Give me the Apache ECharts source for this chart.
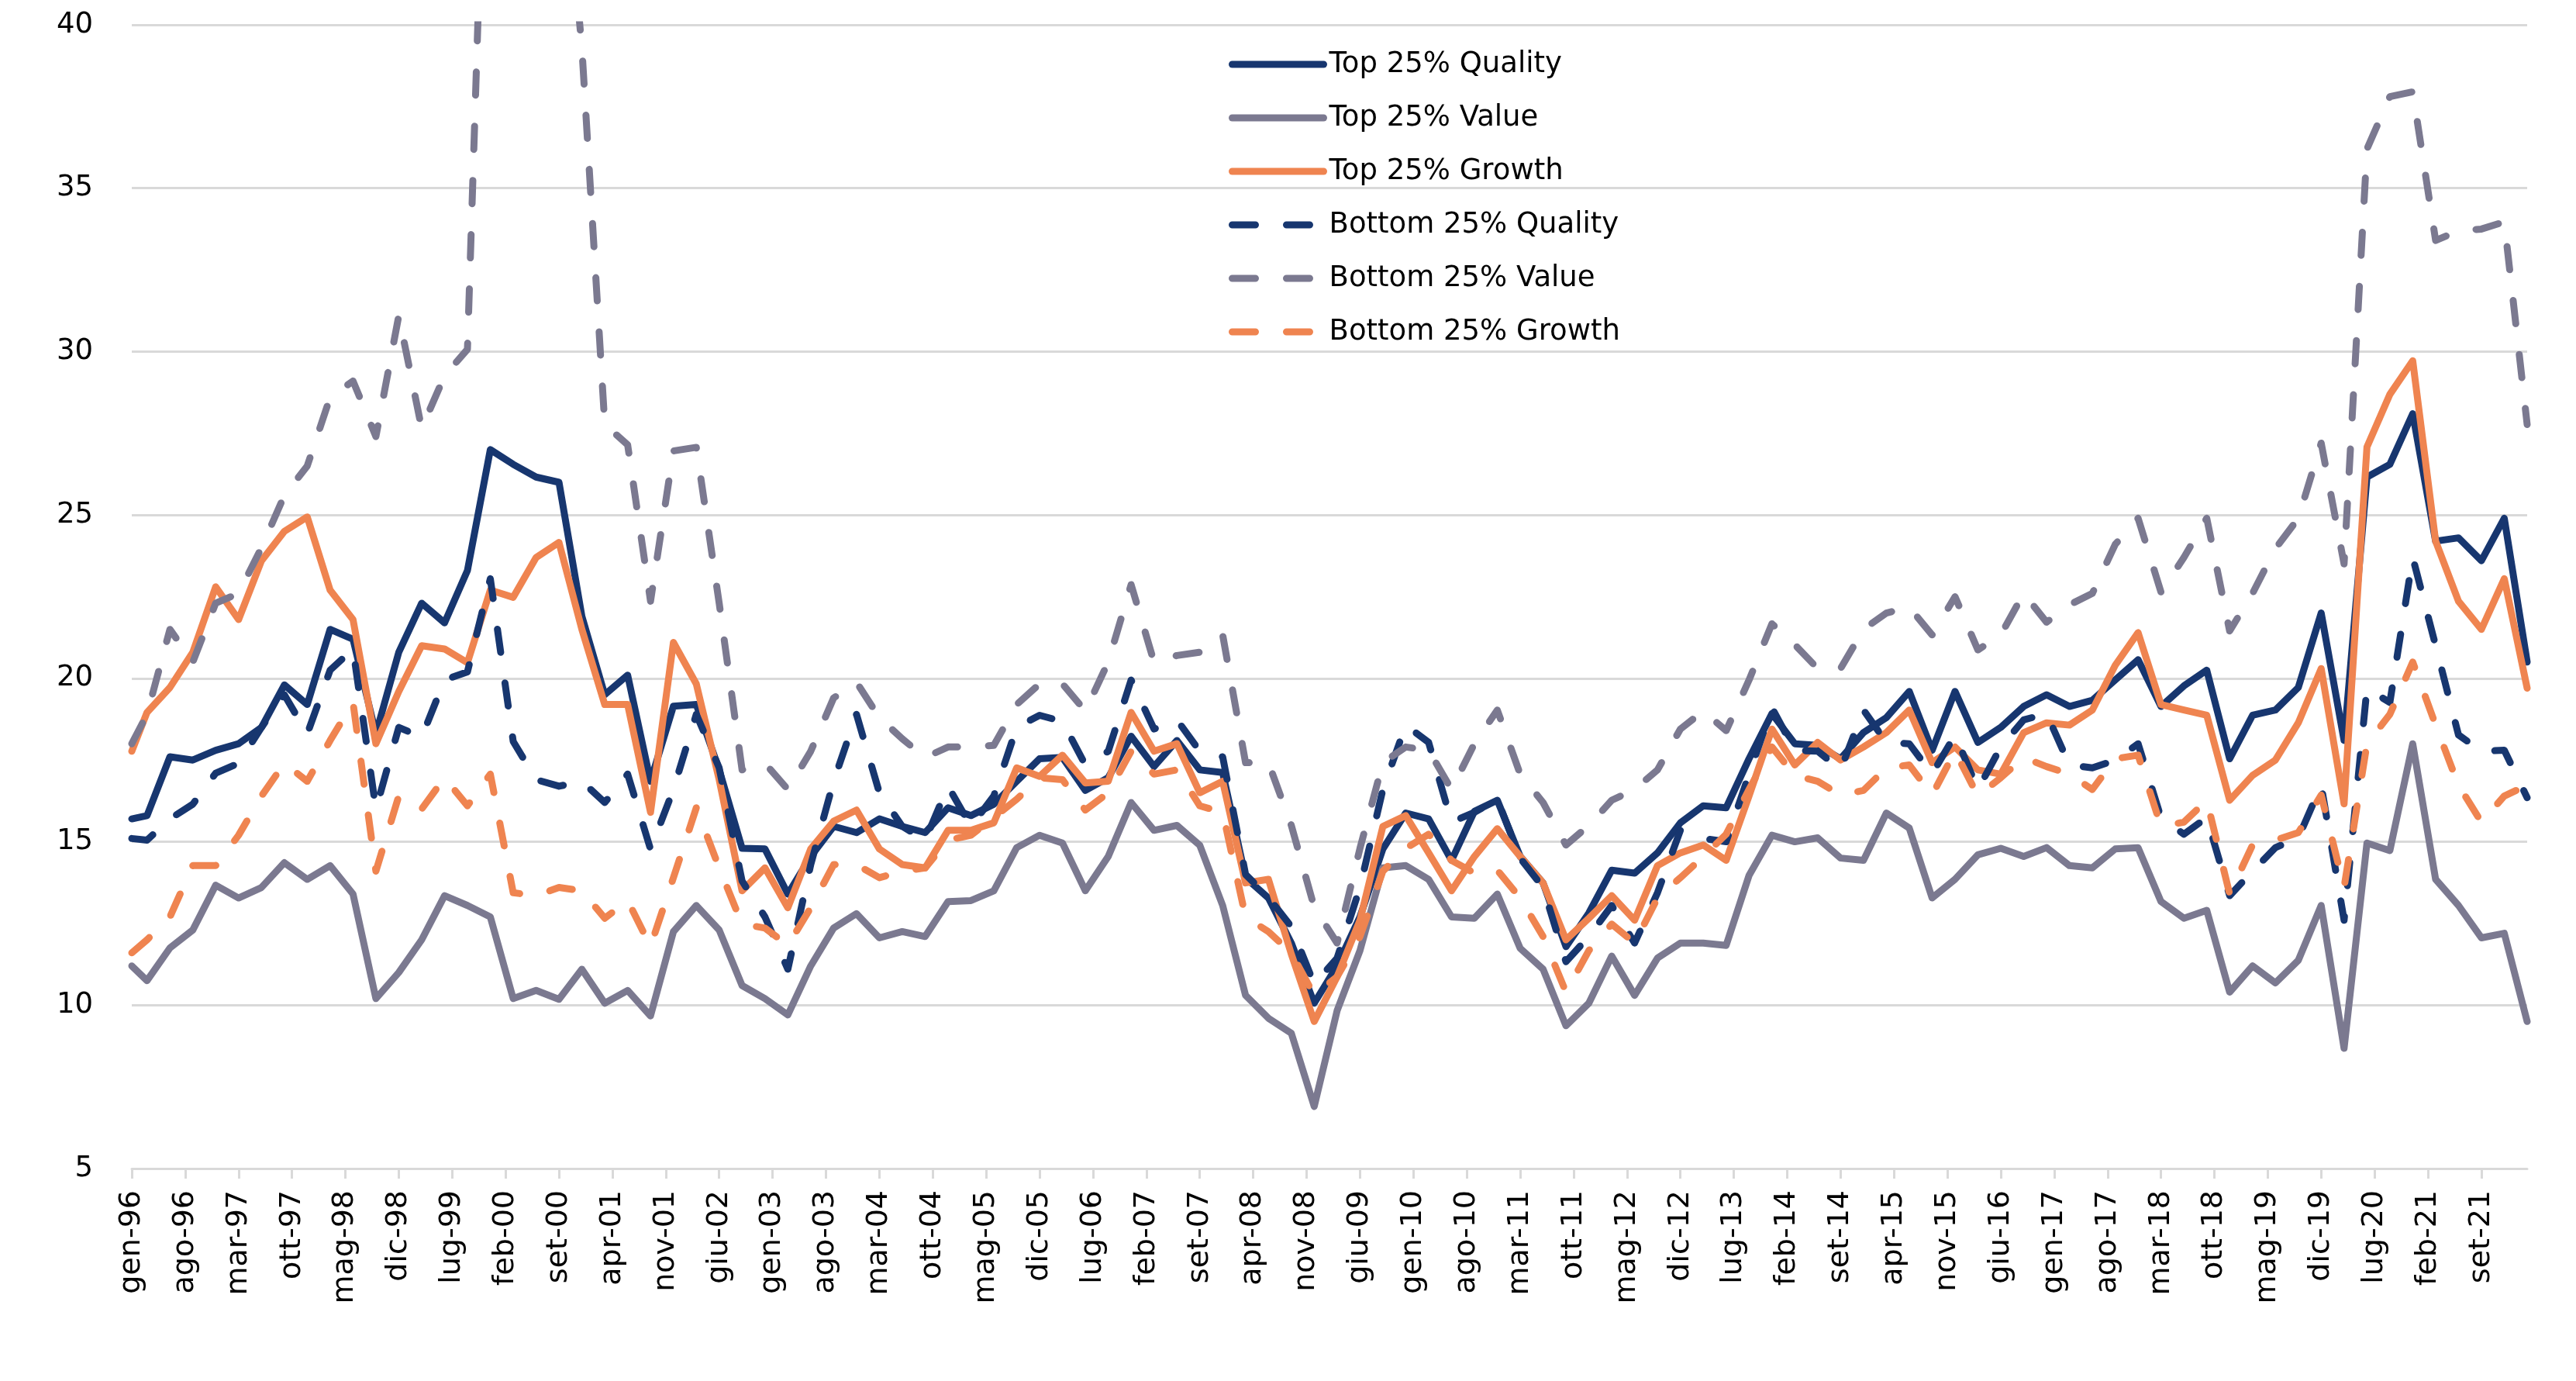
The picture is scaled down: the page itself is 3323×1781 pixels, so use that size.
<!DOCTYPE html>
<html>
<head>
<meta charset="utf-8">
<script src="https://cdn.jsdelivr.net/npm/echarts@6/dist/echarts.min.js"></script>
<style>
html,body{margin:0;padding:0;background:#fff;}
#chart{width:3323px;height:1781px;}
</style>
</head>
<body>
<div id="chart"></div>
<script>
// ---- Data (P/E by quartile, quarterly observations) ----
const MONTHS = ['gen','feb','mar','apr','mag','giu','lug','ago','set','ott','nov','dic'];

const topQuality = [15.7,15.8,17.6,17.5,17.8,18.0,18.5,19.8,19.2,21.5,21.2,18.3,20.8,22.3,
  21.7,23.3,27.0,26.55,26.16,26.0,21.9,19.5,20.1,16.85,19.15,19.2,17.2,14.8,
  14.78,13.4,14.55,15.47,15.28,15.7,15.47,15.28,16.04,15.8,16.15,16.85,17.54,17.58,
  16.57,16.96,18.23,17.3,18.1,17.2,17.12,13.9,13.28,11.9,10.06,11.2,12.7,14.78,
  15.88,15.7,14.43,15.93,16.27,14.55,13.74,11.79,12.82,14.13,14.04,14.66,15.58,16.1,
  16.04,17.54,18.92,18.0,17.95,17.54,18.34,18.8,19.6,17.8,19.6,18.04,18.5,19.14,
  19.5,19.14,19.33,19.95,20.57,19.14,19.77,20.25,17.54,18.87,19.03,19.72,22.0,18.1,
  26.16,26.55,28.1,24.2,24.3,23.6,24.9,20.5];

const topValue = [11.2,10.75,11.75,12.3,13.67,13.28,13.6,14.36,13.85,14.27,13.4,10.2,11.0,12.0,
  13.35,13.05,12.7,10.2,10.45,10.18,11.1,10.06,10.45,9.67,12.25,13.05,12.3,10.6,
  10.2,9.7,11.2,12.36,12.8,12.06,12.25,12.1,13.17,13.2,13.5,14.82,15.2,14.96,
  13.5,14.55,16.2,15.35,15.5,14.89,13.05,10.3,9.6,9.14,6.9,9.83,11.67,14.2,
  14.27,13.85,12.7,12.66,13.4,11.74,11.1,9.37,10.06,11.5,10.3,11.44,11.9,11.9,
  11.83,13.97,15.2,15.0,15.12,14.5,14.43,15.88,15.42,13.28,13.85,14.6,14.8,14.55,
  14.82,14.27,14.2,14.78,14.82,13.17,12.66,12.9,10.4,11.2,10.68,11.37,13.05,8.68,
  14.96,14.73,18.0,13.85,13.05,12.06,12.2,9.5];

const topGrowth = [17.77,18.96,19.72,20.8,22.8,21.8,23.6,24.5,24.94,22.7,21.8,18.0,19.6,21.0,
  20.9,20.48,22.7,22.48,23.7,24.16,21.5,19.2,19.2,15.9,21.1,19.83,16.9,13.5,
  14.2,12.98,14.78,15.63,15.97,14.78,14.3,14.2,15.35,15.35,15.58,17.26,17.0,17.65,
  16.8,16.85,18.96,17.77,18.0,16.5,16.85,13.74,13.85,11.56,9.5,10.87,12.6,15.47,
  15.8,14.66,13.5,14.55,15.4,14.55,13.74,12.0,12.66,13.35,12.6,14.27,14.66,14.9,
  14.43,16.4,18.45,17.35,18.04,17.5,17.9,18.34,19.03,17.42,17.9,17.2,17.07,18.34,
  18.64,18.57,19.03,20.4,21.4,19.2,19.03,18.87,16.27,17.03,17.5,18.64,20.3,16.16,
  27.08,28.69,29.72,24.2,22.36,21.5,23.05,19.7];

const bottomQuality = [15.1,15.05,15.7,16.15,17.1,17.4,18.5,19.5,18.3,20.25,20.9,16.0,18.5,18.2,
  19.95,20.2,23.05,18.07,16.9,16.7,16.85,16.2,17.07,14.77,16.6,18.9,17.26,13.8,
  12.7,11.1,14.3,16.85,18.9,16.5,15.47,15.05,16.7,15.47,16.4,18.5,18.87,18.68,
  17.35,17.77,19.95,18.45,18.73,17.77,17.6,14.0,13.3,12.4,10.64,11.44,13.6,16.6,
  18.57,18.04,15.6,15.9,16.3,14.5,13.6,11.33,12.1,13.05,11.9,13.44,15.35,15.1,
  15.0,17.07,19.1,17.8,17.77,17.2,19.03,18.04,18.0,17.07,18.27,16.6,17.9,18.73,
  18.92,17.35,17.26,17.5,18.0,15.74,15.23,15.74,13.35,14.1,14.82,15.12,16.73,12.6,
  19.7,19.26,23.7,21.0,18.27,17.77,17.8,16.35];

const bottomValue = [18.0,18.9,21.5,20.5,22.3,22.6,24.0,25.6,26.5,28.6,29.1,27.4,31.1,27.65,
  29.26,30.07,52,54,51,47,39.3,27.77,27.15,22.36,26.96,27.07,22.3,17.2,
  17.4,16.6,17.77,19.4,19.88,18.8,18.15,17.58,17.9,17.9,17.95,19.2,19.83,19.83,
  19.0,20.5,22.87,20.5,20.7,20.8,21.33,17.42,17.42,15.5,13.0,11.9,14.8,17.42,
  17.9,17.8,16.6,18.0,19.03,17.07,16.2,14.9,15.5,16.27,16.6,17.2,18.45,19.0,
  18.4,19.95,21.67,21.03,20.3,20.3,21.5,22.0,22.18,21.33,22.5,20.87,21.33,22.6,
  21.72,22.25,22.6,24.1,24.9,22.64,23.7,24.9,21.45,22.6,23.97,24.9,27.2,23.5,
  36.2,37.8,37.95,33.4,33.7,33.75,33.97,27.77];

const bottomGrowth = [11.6,12.0,12.7,14.27,14.27,15.2,16.4,17.4,16.85,18.1,19.26,14.1,16.4,16.0,
  16.96,16.1,17.07,13.44,13.35,13.6,13.5,12.66,13.2,11.8,13.9,16.04,14.2,12.48,
  12.36,11.83,12.98,14.3,14.3,13.9,14.1,14.2,15.05,15.2,15.74,16.3,16.96,16.9,
  15.97,16.5,17.77,17.07,17.2,16.1,15.9,12.7,12.25,11.6,10.3,10.87,12.1,14.1,
  14.8,15.23,14.43,14.04,14.13,13.28,12.1,10.4,11.67,12.48,11.9,13.28,13.9,14.55,
  15.23,16.6,17.9,17.03,16.85,16.43,16.57,17.26,17.35,16.43,17.77,16.4,16.96,17.58,
  17.3,17.07,16.6,17.54,17.65,15.47,15.6,16.27,13.4,14.9,15.05,15.28,16.43,13.6,
  18.0,18.9,20.5,18.57,16.73,15.6,16.4,16.73];

const seriesNames = ['Top 25% Quality','Top 25% Value','Top 25% Growth',
                     'Bottom 25% Quality','Bottom 25% Value','Bottom 25% Growth'];
const yTicks = {min: 5, max: 40, interval: 5};

// ---- Monthly category axis (gen-96 .. mar-22) ----
const categories = [];
for (let y = 1996; y <= 2022; y++) {
  for (let m = 0; m < 12; m++) {
    if (y === 2022 && m > 2) break;
    categories.push(MONTHS[m] + '-' + String(y).slice(2));
  }
}
// Observation dates: gen-96, then quarter ends (mar, giu, set, dic) up to mar-22
const pointDates = ['gen-96'];
for (let y = 1996; y <= 2022; y++) {
  for (const m of [2,5,8,11]) {
    const lab = MONTHS[m] + '-' + String(y).slice(2);
    if (categories.indexOf(lab) >= 0) pointDates.push(lab);
  }
}

const NAVY = '#17366f', GRAY = '#7b7990', ORANGE = '#ef8450';
const FONT = 'DejaVu Sans';
const DASH = [30, 40];

function mk(name, vals, color, dashed) {
  return {
    name: name,
    type: 'line',
    data: pointDates.map((d, i) => [d, vals[i]]),
    symbol: 'none',
    showSymbol: false,
    clip: true,
    lineStyle: {color: color, width: 9, type: dashed ? DASH : 'solid', cap: 'round', join: 'round'},
    itemStyle: {color: color},
    emphasis: {disabled: true},
    animation: false
  };
}

const chart = echarts.init(document.getElementById('chart'), null, {renderer: 'canvas'});
chart.setOption({
  backgroundColor: '#ffffff',
  animation: false,
  grid: {left: 170, right: 63, top: 32, bottom: 274, containLabel: false},
  legend: {
    orient: 'vertical',
    left: 1580,
    top: 58,
    itemWidth: 118,
    itemHeight: 14,
    itemGap: 29,
    data: seriesNames,
    lineStyle: {width: 9, cap: 'round'},
    itemStyle: {opacity: 0},
    textStyle: {fontFamily: FONT, fontSize: 37, color: '#000', lineHeight: 40, padding: [0, 0, 0, 2]},
    selectedMode: false
  },
  xAxis: {
    type: 'category',
    data: categories,
    boundaryGap: false,
    axisLine: {show: true, lineStyle: {color: '#d9d9d9', width: 3}},
    axisTick: {show: true, interval: 6, length: 13, lineStyle: {color: '#d9d9d9', width: 3}},
    axisLabel: {interval: 6, rotate: 90, margin: 28, fontFamily: FONT, fontSize: 38, color: '#000'},
    splitLine: {show: false}
  },
  yAxis: {
    type: 'value',
    min: yTicks.min,
    max: yTicks.max,
    interval: yTicks.interval,
    axisLine: {show: false},
    axisTick: {show: false},
    axisLabel: {margin: 50, fontFamily: FONT, fontSize: 37, color: '#000'},
    splitLine: {show: true, lineStyle: {color: '#d9d9d9', width: 3}}
  },
  series: [
    mk(seriesNames[0], topQuality, NAVY, false),
    mk(seriesNames[1], topValue, GRAY, false),
    mk(seriesNames[2], topGrowth, ORANGE, false),
    mk(seriesNames[3], bottomQuality, NAVY, true),
    mk(seriesNames[4], bottomValue, GRAY, true),
    mk(seriesNames[5], bottomGrowth, ORANGE, true)
  ]
});
</script>
</body>
</html>
